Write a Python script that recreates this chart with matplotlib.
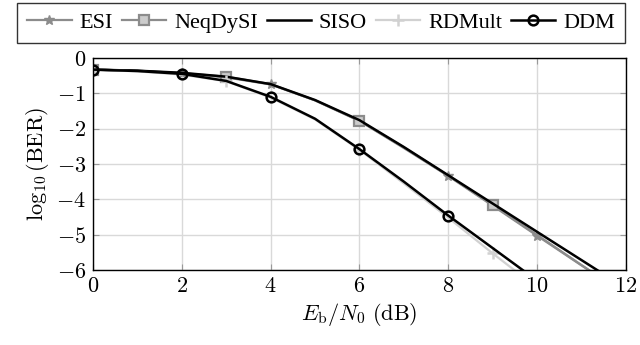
import matplotlib
matplotlib.use("Agg")
import matplotlib.pyplot as plt

plt.rcParams['mathtext.fontset'] = 'cm'
plt.rcParams['font.family'] = ['cmr10', 'DejaVu Serif']
plt.rcParams['axes.formatter.use_mathtext'] = True

# Eb/N0 in dB
snr = [0, 1, 2, 3, 4, 5, 6, 7, 8, 9, 10, 11, 12]

# log10(BER) per detector
esi = [-0.33, -0.36, -0.43, -0.55, -0.75, -1.2, -1.78, -2.55, -3.34, -4.18, -5.03, -5.87, -6.7]
neqdysi = [-0.33, -0.36, -0.43, -0.53, -0.74, -1.2, -1.78, -2.53, -3.33, -4.16, -5.01, -5.86, -6.7]
siso = [-0.33, -0.36, -0.42, -0.53, -0.74, -1.19, -1.76, -2.52, -3.32, -4.12, -4.92, -5.72, -6.52]
rdmult = [-0.33, -0.38, -0.47, -0.66, -1.12, -1.74, -2.6, -3.55, -4.52, -5.53, -6.5, -7.5, -8.5]
ddm = [-0.33, -0.37, -0.45, -0.65, -1.1, -1.72, -2.58, -3.5, -4.46, -5.38, -6.3, -7.3, -8.3]

fig = plt.figure(figsize=(6.4, 3.45), dpi=100)
ax = fig.add_axes([0.1453, 0.2174, 0.978 - 0.1453, 0.832 - 0.2174])

ax.plot(snr, esi, '-', color='0.55', lw=1.6, marker='*', markersize=7,
        markevery=2, mfc='0.55', mec='0.55', label='ESI')
ax.plot(snr, neqdysi, '-', color='0.55', lw=1.6, marker='s', markersize=7,
        markevery=3, mfc='0.8', mec='0.55', mew=1.6, label='NeqDySI')
ax.plot(snr, siso, '-', color='black', lw=1.8, label='SISO')
ax.plot(snr, rdmult, '-', color='0.82', lw=1.6, marker='+', markersize=8,
        markevery=3, mew=1.8, mec='0.82', label='RDMult')
ax.plot(snr, ddm, '-', color='black', lw=1.8, marker='o', markersize=7,
        markevery=2, mfc='none', mec='black', mew=1.8, label='DDM')

ax.set_xlim(0, 12)
ax.set_ylim(-6, 0)
ax.set_xticks([0, 2, 4, 6, 8, 10, 12])
ax.set_yticks([0, -1, -2, -3, -4, -5, -6])
ax.grid(True, color='0.85', lw=1.0)
ax.set_axisbelow(True)
ax.tick_params(direction='in', length=4, color='0.6', labelsize=16,
               top=True, right=True, pad=5)
for sp in ax.spines.values():
    sp.set_linewidth(1.0)

ax.set_xlabel(r'$E_{\mathrm{b}}/N_0\ \mathrm{(dB)}$', fontsize=16, labelpad=3)
ax.set_ylabel(r'$\log_{10}(\mathrm{BER})$', fontsize=16, labelpad=4)

leg = fig.legend(loc='center', bbox_to_anchor=(321 / 640, 1 - 23 / 345), ncol=5,
                 prop={'family': 'Liberation Serif', 'size': 16},
                 handlelength=2.0, handletextpad=0.35, columnspacing=0.4,
                 frameon=True, fancybox=False, edgecolor='black', borderpad=0.45)
leg.get_frame().set_linewidth(1.0)

fig.savefig('out.png', dpi=100)
